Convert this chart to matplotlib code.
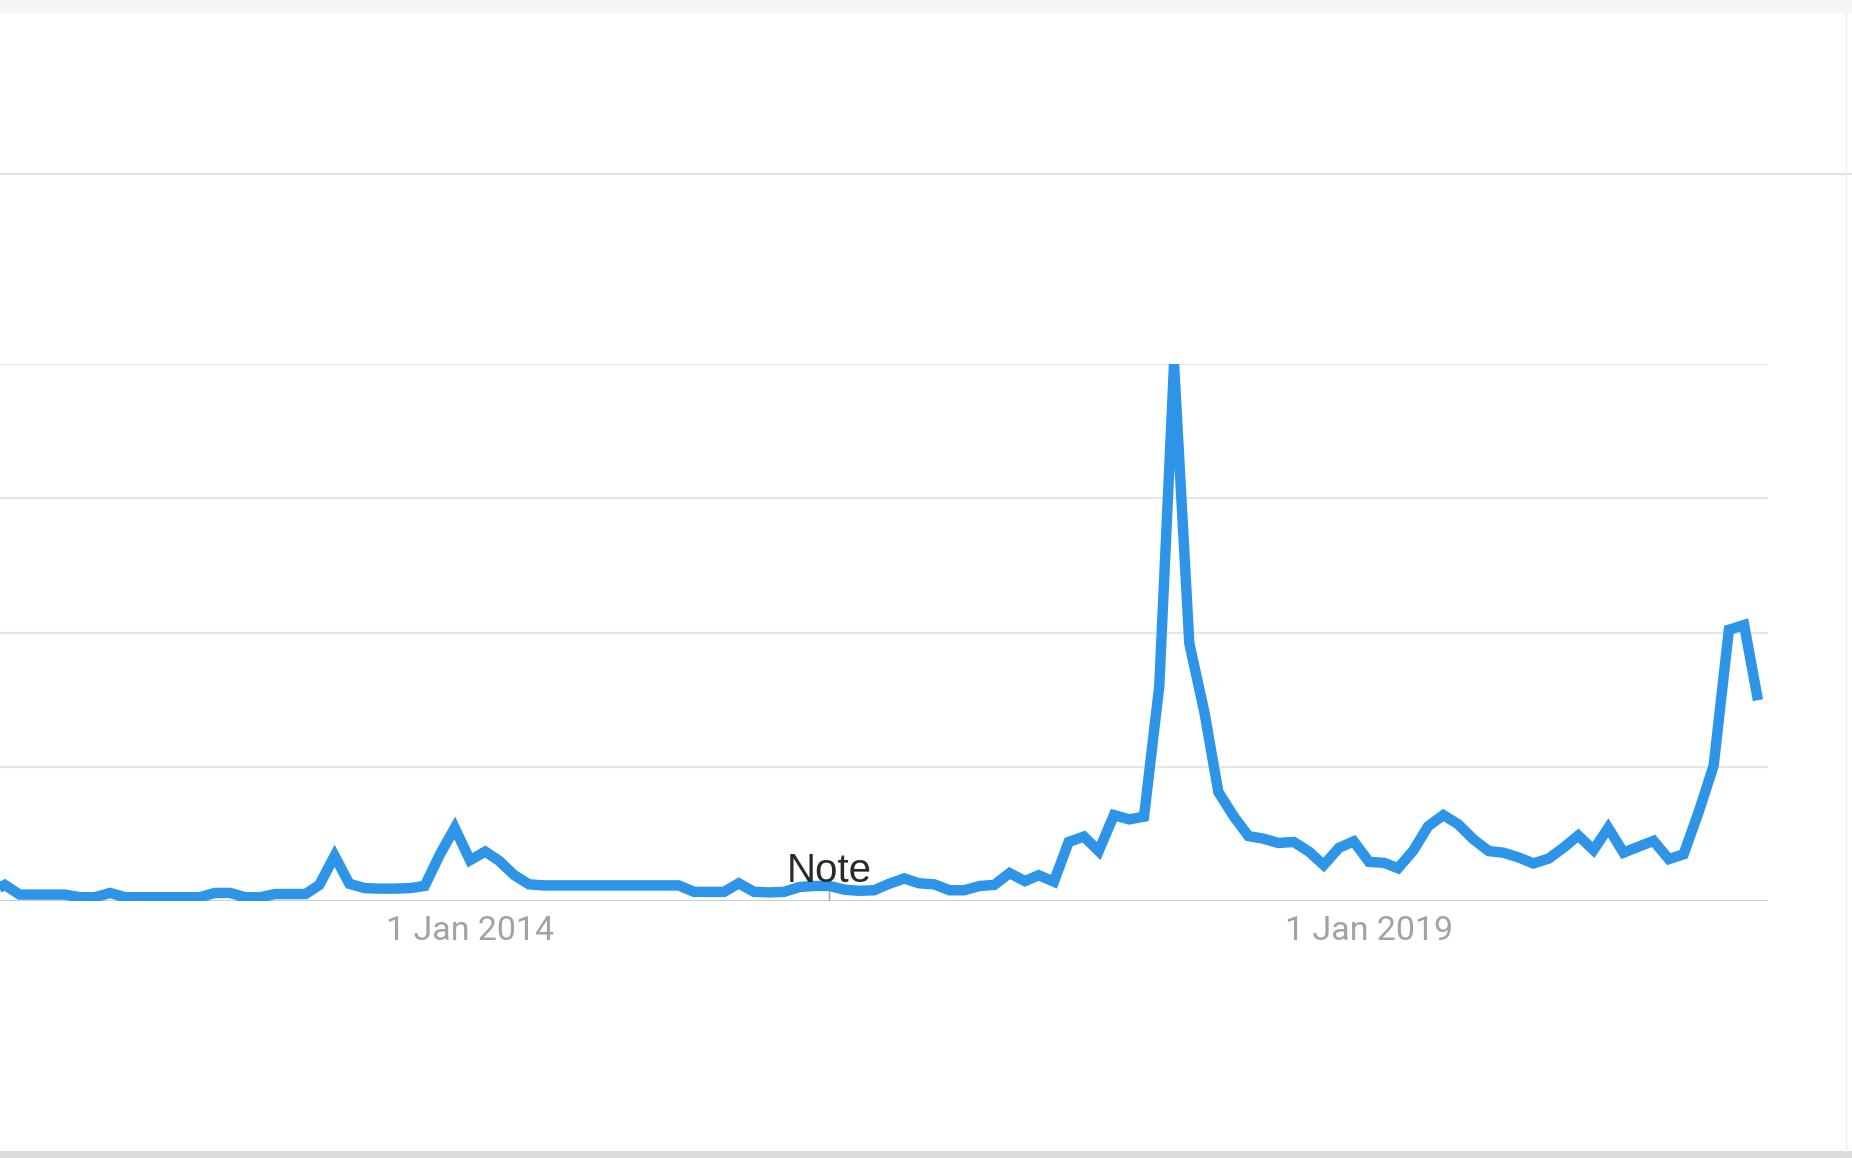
import numpy as np
import pandas as pd
import matplotlib
matplotlib.use('Agg')
import matplotlib.pyplot as plt
from matplotlib.patches import Rectangle
from matplotlib.lines import Line2D
import matplotlib.dates as mdates

# monthly interest over time, May 2011 - Mar 2021 (0-100 scale)
start_month = '2011-05-01'
interest = [
    1.5, 3.0, 1.2, 1.2, 1.2, 1.2, 0.7, 0.7,                          # 2011
    1.5, 0.7, 0.7, 0.7, 0.7, 0.7, 0.7, 1.5, 1.5, 0.7, 0.7, 1.3,      # 2012
    1.3, 1.3, 3.0, 8.4, 3.2, 2.4, 2.3, 2.3, 2.4, 2.8, 8.7, 13.6,     # 2013
    7.6, 9.2, 7.5, 4.8, 3.1, 2.9, 2.9, 2.9, 2.9, 2.9, 2.9, 2.9,      # 2014
    2.9, 2.9, 2.9, 1.7, 1.7, 1.7, 3.3, 1.7, 1.6, 1.7, 2.6, 2.8,      # 2015
    2.8, 2.1, 1.9, 2.0, 3.2, 4.2, 3.3, 3.1, 2.0, 2.0, 2.8, 3.0,      # 2016
    5.2, 3.7, 4.8, 3.6, 11.0, 12.0, 9.3, 16.0, 15.2, 15.7, 40.0, 100.0,  # 2017
    48.0, 35.0, 20.3, 15.8, 12.1, 11.6, 10.8, 11.0, 9.2, 6.7, 9.9, 11.1,  # 2018
    7.3, 7.1, 6.1, 9.4, 13.9, 16.0, 14.3, 11.5, 9.3, 9.0, 8.1, 7.0,  # 2019
    7.9, 10.0, 12.2, 9.5, 13.6, 9.0, 10.1, 11.2, 7.8, 8.7, 16.7, 25.2,  # 2020
    50.5, 51.4, 37.4,                                                # 2021
]
months = pd.date_range(start_month, periods=len(interest), freq='MS')

tick_dates = ['2014-01-01', '2019-01-01']
tick_labels = ['1 Jan 2014', '1 Jan 2019']
note_date = '2016-01-01'
note_text = 'Note'
y_grid = [25, 50, 75, 100]

W, H = 1852, 1158
fig = plt.figure(figsize=(W / 100, H / 100), dpi=100)
fig.patch.set_facecolor('white')

# page chrome around the chart card
fig.add_artist(Rectangle((0, 1 - 13 / H), 1, 13 / H, transform=fig.transFigure,
                         color='#f5f5f5', lw=0))
fig.add_artist(Line2D([0, 1], [1 - 174 / H] * 2, transform=fig.transFigure,
                      color='#e2e2e2', lw=1.6))
fig.add_artist(Rectangle((0, 0), 1, 7 / H, transform=fig.transFigure,
                         color='#dcdcdc', lw=0))
fig.add_artist(Line2D([1846 / W] * 2, [7 / H, 1 - 13 / H], transform=fig.transFigure,
                      color='#eeeeee', lw=1.0))

# plot area: baseline at y=901px, 100-line at y=364px, right edge at x=1768px
ax = fig.add_axes([0, (H - 901) / H, 1768 / W, (901 - 364) / H])

for g in y_grid:
    ax.axhline(g, color='#e6e6e6', lw=1.6, zorder=1)
ax.axhline(0, color='#c6c6c6', lw=2.0, zorder=1)

ax.plot(months, interest, color='#2d94e8', lw=7.5, solid_joinstyle='miter',
        solid_capstyle='butt', zorder=3)

# note marker
nd = pd.Timestamp(note_date)
ax.plot([nd, nd], [0, 2.4], color='#9e9e9e', lw=1.0, zorder=2)
ax.text(nd, 3.6, note_text, ha='center', va='baseline', fontsize=29,
        family=['Liberation Sans', 'DejaVu Sans'], color='#2a2a2a', zorder=4)

# x limits from tick positions (1 Jan 2014 at x=470px, 1 Jan 2019 at x=1369px)
t0 = mdates.date2num(pd.Timestamp(tick_dates[0]))
t1 = mdates.date2num(pd.Timestamp(tick_dates[1]))
per_px = (t1 - t0) / 899.0
ax.set_xlim(t0 - 470 * per_px, t1 + 399 * per_px)
ax.set_ylim(0, 100)

ax.set_xticks([pd.Timestamp(d) for d in tick_dates])
ax.set_xticklabels(tick_labels, family=['Roboto', 'DejaVu Sans'], fontsize=24.5,
                   color='#a2a2a2')
ax.tick_params(axis='x', length=0, pad=10)
ax.set_yticks([])
for s in ax.spines.values():
    s.set_visible(False)
ax.set_facecolor('none')

fig.savefig('out.png', dpi=100)
